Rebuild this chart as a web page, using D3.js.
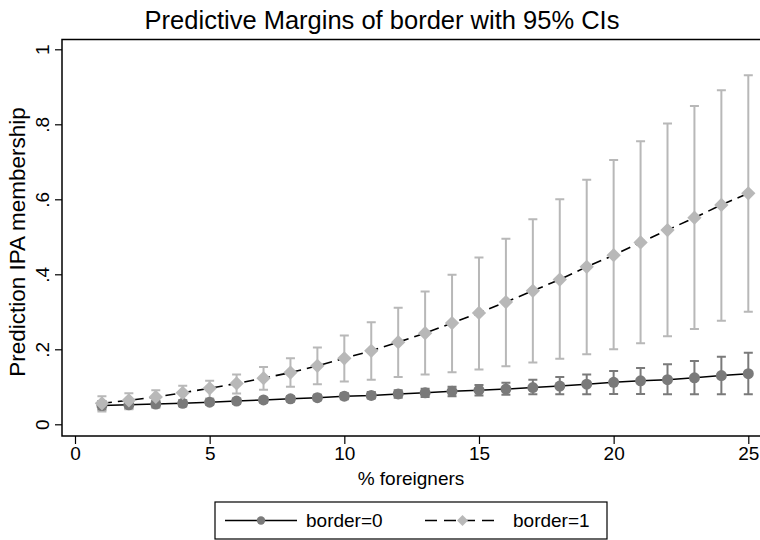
<!DOCTYPE html>
<html>
<head>
<meta charset="utf-8">
<script src="https://cdn.jsdelivr.net/npm/d3@7"></script>
<style>
  body { margin: 0; background: #fff; }
  svg { display: block; font-family: "Liberation Sans", Arial, sans-serif; }
</style>
</head>
<body>
<svg id="chart"></svg>
<script>
// % foreigners values
const foreigners = [1,2,3,4,5,6,7,8,9,10,11,12,13,14,15,16,17,18,19,20,21,22,23,24,25];

// border=0 predictive margins + 95% CI
const border0Margin = [0.050,0.052,0.054,0.056,0.059,0.062,0.065,0.068,0.071,0.075,0.077,0.081,0.084,0.088,0.091,0.094,0.098,0.102,0.107,0.112,0.116,0.119,0.124,0.130,0.135];
const border0Lower  = [0.039,0.042,0.045,0.048,0.052,0.055,0.058,0.061,0.064,0.067,0.069,0.071,0.073,0.075,0.077,0.079,0.080,0.080,0.080,0.081,0.081,0.080,0.080,0.080,0.080];
const border0Upper  = [0.062,0.062,0.063,0.064,0.066,0.068,0.071,0.075,0.079,0.083,0.086,0.091,0.095,0.100,0.105,0.111,0.119,0.126,0.133,0.142,0.150,0.160,0.169,0.180,0.191];

// border=1 predictive margins + 95% CI
const border1Margin = [0.056,0.064,0.073,0.084,0.096,0.109,0.123,0.138,0.156,0.176,0.196,0.219,0.243,0.270,0.297,0.326,0.356,0.386,0.420,0.451,0.485,0.518,0.551,0.585,0.616];
const border1Lower  = [0.034,0.040,0.047,0.057,0.069,0.082,0.092,0.100,0.107,0.114,0.119,0.126,0.133,0.139,0.146,0.155,0.165,0.175,0.187,0.200,0.216,0.235,0.254,0.276,0.300];
const border1Upper  = [0.075,0.083,0.091,0.103,0.116,0.133,0.153,0.176,0.205,0.237,0.272,0.311,0.354,0.399,0.445,0.495,0.547,0.600,0.652,0.705,0.755,0.802,0.849,0.891,0.931];

const xTicks = [0,5,10,15,20,25];
const yTicks = [0,0.2,0.4,0.6,0.8,1];

const W = 760, H = 540;
const frame = {left: 62, top: 39.5, right: 761, bottom: 436};

const svg = d3.select("#chart").attr("width", W).attr("height", H);
svg.append("rect").attr("width", W).attr("height", H).attr("fill", "#fff");

const x = d3.scaleLinear().domain([0, 25]).range([75, 748.3]);
const y = d3.scaleLinear().domain([0, 1]).range([424.3, 49.3]);

const series = [
  {name: "border=0", margin: border0Margin, lo: border0Lower, hi: border0Upper,
   color: "#7a7a7a", dash: null, shape: "circle"},
  {name: "border=1", margin: border1Margin, lo: border1Lower, hi: border1Upper,
   color: "#b8b8b8", dash: "10,6", shape: "diamond"}
];
series.forEach(s => {
  s.points = foreigners.map((f, i) => ({f: f, m: s.margin[i], lo: s.lo[i], hi: s.hi[i]}));
});

// title
svg.append("text")
  .attr("x", 382).attr("y", 29)
  .attr("text-anchor", "middle")
  .attr("font-size", 25.5)
  .text("Predictive Margins of border with 95% CIs");

// plot frame
svg.append("rect")
  .attr("x", frame.left).attr("y", frame.top)
  .attr("width", frame.right - frame.left).attr("height", frame.bottom - frame.top)
  .attr("fill", "none").attr("stroke", "#000").attr("stroke-width", 1.5);

// x axis
const xAxis = svg.append("g")
  .attr("transform", "translate(0," + frame.bottom + ")")
  .call(d3.axisBottom(x).tickValues(xTicks).tickSize(8).tickPadding(3));
xAxis.select(".domain").remove();
xAxis.selectAll("line").attr("stroke", "#000").attr("stroke-width", 1.2);
xAxis.selectAll("text").attr("font-size", 19).attr("fill", "#000")
  .attr("font-family", "Liberation Sans, Arial, sans-serif");

// y axis
const fmt = d => d === 0 ? "0" : d === 1 ? "1" : String(d).replace("0.", ".");
const yAxis = svg.append("g")
  .attr("transform", "translate(" + frame.left + ",0)")
  .call(d3.axisLeft(y).tickValues(yTicks).tickSize(7).tickFormat(fmt));
yAxis.select(".domain").remove();
yAxis.selectAll("line").attr("stroke", "#000").attr("stroke-width", 1.2);
yAxis.selectAll("text")
  .attr("font-size", 19).attr("fill", "#000")
  .attr("font-family", "Liberation Sans, Arial, sans-serif")
  .attr("x", null).attr("dy", null)
  .attr("text-anchor", "middle")
  .attr("transform", "translate(-20,0) rotate(-90)")
  .attr("dy", "0.35em");

// axis titles
svg.append("text")
  .attr("x", (frame.left + 760) / 2).attr("y", 485)
  .attr("text-anchor", "middle").attr("font-size", 19)
  .text("% foreigners");
svg.append("text")
  .attr("transform", "translate(25,242) rotate(-90)")
  .attr("text-anchor", "middle").attr("font-size", 22.5)
  .text("Prediction IPA membership");

// confidence interval caps
const capW = 4.5;
series.forEach(s => {
  const g = svg.append("g").attr("stroke", s.color).attr("stroke-width", 2).attr("fill", "none");
  g.selectAll("path.ci").data(s.points).enter().append("path")
    .attr("class", "ci")
    .attr("d", d => {
      const cx = x(d.f), y0 = y(d.lo), y1 = y(d.hi);
      return `M${cx},${y0}V${y1}M${cx - capW},${y0}H${cx + capW}M${cx - capW},${y1}H${cx + capW}`;
    });
});

// connected lines + markers
const line = d3.line().x(d => x(d.f)).y(d => y(d.m));
const diamond = r => `M0,${-r}L${r},0L0,${r}L${-r},0Z`;

function drawMarker(sel, s, size) {
  if (s.shape === "circle") {
    sel.append("circle").attr("r", size).attr("fill", s.color);
  } else {
    sel.append("path").attr("d", diamond(size * 1.3)).attr("fill", s.color);
  }
}

series.forEach(s => {
  svg.append("path")
    .datum(s.points)
    .attr("d", line)
    .attr("fill", "none").attr("stroke", "#000").attr("stroke-width", 1.6)
    .attr("stroke-dasharray", s.dash);
  svg.selectAll(null).data(s.points).enter().append("g")
    .attr("transform", d => "translate(" + x(d.f) + "," + y(d.m) + ")")
    .each(function() { drawMarker(d3.select(this), s, 5.5); });
});

// legend
const leg = svg.append("g");
leg.append("rect")
  .attr("x", 215).attr("y", 502).attr("width", 392).attr("height", 37)
  .attr("fill", "#fff").attr("stroke", "#000").attr("stroke-width", 1.2);
const legItems = [
  {s: series[0], x0: 225, x1: 297, tx: 306},
  {s: series[1], x0: 425, x1: 500, tx: 513}
];
legItems.forEach(it => {
  const ly = 520.5;
  leg.append("line")
    .attr("x1", it.x0).attr("x2", it.x1).attr("y1", ly).attr("y2", ly)
    .attr("stroke", "#000").attr("stroke-width", 1.6)
    .attr("stroke-dasharray", it.s.dash ? "12,7" : null);
  const m = leg.append("g").attr("transform", "translate(" + ((it.x0 + it.x1) / 2) + "," + ly + ")");
  drawMarker(m, it.s, 4.2);
  leg.append("text")
    .attr("x", it.tx).attr("y", ly).attr("dy", "0.35em")
    .attr("font-size", 19)
    .text(it.s.name);
});
</script>
</body>
</html>
